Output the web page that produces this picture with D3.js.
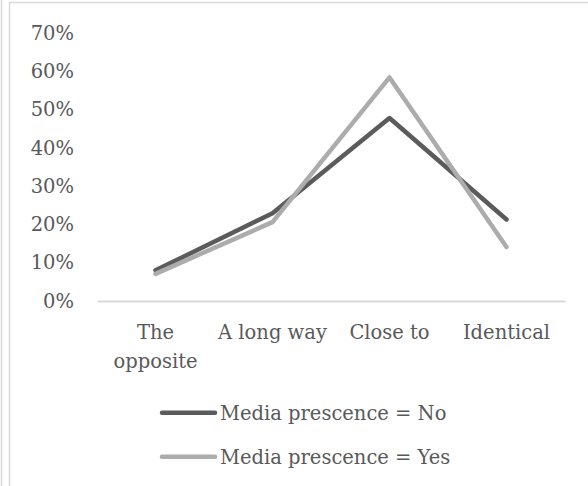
<!DOCTYPE html>
<html>
<head>
<meta charset="utf-8">
<script src="https://cdn.jsdelivr.net/npm/d3@7"></script>
<style>
  html, body { margin: 0; padding: 0; background: #fff; }
  svg { display: block; }
  text { font-family: "DejaVu Serif", serif; fill: #595959; }
</style>
</head>
<body>
<svg id="chart" width="588" height="486"></svg>
<script>
// Categories along the x axis (multi-line labels split by "\n")
const categories = ["The\nopposite", "A long way", "Close to", "Identical"];
// Share of responses per category, in percent
const mediaNo  = [8.0, 22.9, 47.8, 21.3];
const mediaYes = [7.1, 20.6, 58.4, 14.1];
const seriesNames = ["Media prescence = No", "Media prescence = Yes"];
const yTicks = [0, 10, 20, 30, 40, 50, 60, 70];

const series = [
  { name: seriesNames[0], values: mediaNo,  color: "#5b5b5b" },
  { name: seriesNames[1], values: mediaYes, color: "#acacac" }
];

const svg = d3.select("#chart");
const W = 588, H = 486;
const fontSize = 19.5;

// Outer frame lines
svg.append("line").attr("x1", 1.5).attr("x2", 1.5).attr("y1", 0).attr("y2", H)
  .attr("stroke", "#d9d9d9").attr("stroke-width", 1.5);
svg.append("path").attr("d", `M9.5,${H} V2.5 H${W}`)
  .attr("fill", "none").attr("stroke", "#d9d9d9").attr("stroke-width", 1.5);

const plot = { left: 97, right: 565, top: 33, bottom: 301 };

const x = d3.scaleBand().domain(categories).range([plot.left, plot.right]);
const y = d3.scaleLinear().domain([0, 70]).range([plot.bottom, plot.top]);

// Y axis labels (no axis line or ticks)
const yAxis = d3.axisLeft(y).tickValues(yTicks).tickFormat(d => d + "%").tickSize(0).tickPadding(0);
const gy = svg.append("g").attr("transform", "translate(74,0)").call(yAxis);
gy.select(".domain").remove();
gy.selectAll("text").attr("font-size", fontSize).attr("font-family", null).attr("fill", "#595959");

// X axis baseline and category labels
const xAxis = d3.axisBottom(x).tickSize(0).tickFormat("");
const gx = svg.append("g").attr("transform", `translate(0,${plot.bottom})`).call(xAxis);
gx.select(".domain").attr("stroke", "#d9d9d9").attr("stroke-width", 2);

categories.forEach(c => {
  const lines = c.split("\n");
  const t = svg.append("text")
    .attr("x", x(c) + x.bandwidth() / 2)
    .attr("y", 339)
    .attr("text-anchor", "middle")
    .attr("font-size", fontSize);
  lines.forEach((ln, i) => {
    t.append("tspan").attr("x", x(c) + x.bandwidth() / 2).attr("dy", i === 0 ? 0 : 29).text(ln);
  });
});

// Series lines
const line = d3.line()
  .x((d, i) => x(categories[i]) + x.bandwidth() / 2)
  .y(d => y(d));

series.forEach(s => {
  svg.append("path")
    .datum(s.values)
    .attr("d", line)
    .attr("fill", "none")
    .attr("stroke", s.color)
    .attr("stroke-width", 4.5)
    .attr("stroke-linecap", "round")
    .attr("stroke-linejoin", "round");
});

// Legend
const legendY = [412.7, 456.7];
series.forEach((s, i) => {
  const g = svg.append("g").attr("transform", `translate(0,${legendY[i]})`);
  g.append("line").attr("x1", 162).attr("x2", 215).attr("y1", 0).attr("y2", 0)
    .attr("stroke", s.color).attr("stroke-width", 4.5).attr("stroke-linecap", "round");
  g.append("text").attr("x", 220).attr("y", 0).attr("dy", "0.35em")
    .attr("font-size", fontSize).text(s.name);
});
</script>
</body>
</html>
